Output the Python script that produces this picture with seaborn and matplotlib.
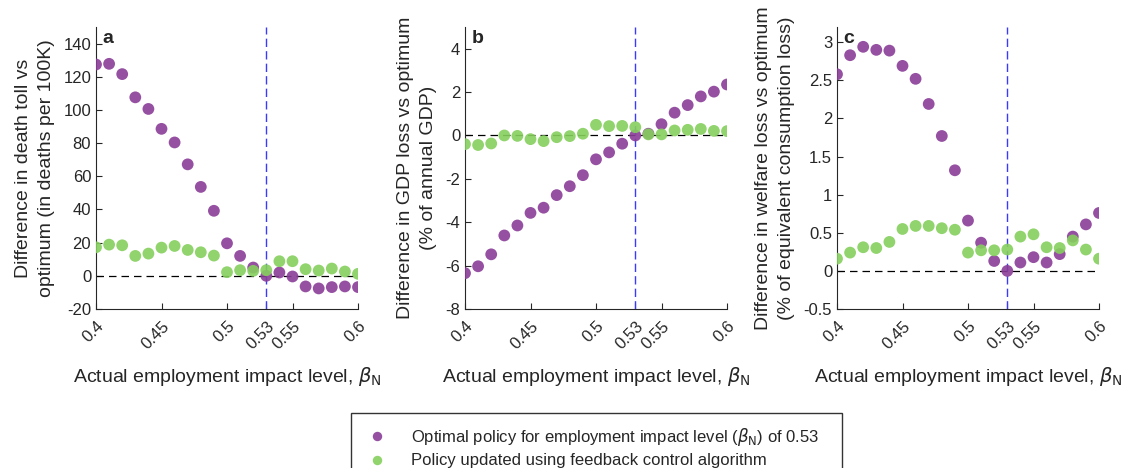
import numpy as np
import pandas as pd
import seaborn as sns
import matplotlib.pyplot as plt

beta = [0.40, 0.41, 0.42, 0.43, 0.44, 0.45, 0.46, 0.47, 0.48, 0.49, 0.50,
        0.51, 0.52, 0.53, 0.54, 0.55, 0.56, 0.57, 0.58, 0.59, 0.60]

# panel a: death toll difference (deaths per 100K)
death_opt = [127.4, 127.8, 121.6, 107.6, 100.6, 88.6, 80.4, 67.2, 53.6, 39.2, 19.6,
             12.0, 5.0, 0.0, 2.0, -0.4, -6.4, -7.6, -6.8, -6.4, -6.8]
death_fb = [17.2, 18.8, 18.4, 12.0, 13.4, 17.0, 18.0, 15.6, 14.2, 12.2, 2.2,
            3.4, 3.0, 3.4, 8.8, 8.8, 4.0, 3.2, 4.4, 2.6, 1.2]

# panel b: GDP loss difference (% of annual GDP)
gdp_opt = [-6.35, -6.03, -5.48, -4.61, -4.15, -3.57, -3.33, -2.75, -2.34, -1.83, -1.10,
           -0.78, -0.38, 0.0, 0.08, 0.52, 1.05, 1.40, 1.80, 2.02, 2.35]
gdp_fb = [-0.40, -0.44, -0.37, 0.0, -0.02, -0.17, -0.26, -0.08, -0.03, 0.08, 0.49,
          0.43, 0.44, 0.38, 0.05, 0.05, 0.23, 0.26, 0.30, 0.21, 0.20]

# panel c: welfare loss difference (% of equivalent consumption loss)
welf_opt = [2.58, 2.83, 2.94, 2.90, 2.89, 2.69, 2.52, 2.19, 1.77, 1.32, 0.66,
            0.37, 0.13, 0.0, 0.11, 0.18, 0.11, 0.22, 0.45, 0.61, 0.76]
welf_fb = [0.16, 0.24, 0.31, 0.30, 0.38, 0.55, 0.59, 0.59, 0.56, 0.54, 0.24,
           0.27, 0.27, 0.28, 0.45, 0.48, 0.31, 0.30, 0.40, 0.28, 0.16]

lab_opt = r'Optimal policy for employment impact level ($\beta_{\mathrm{N}}$) of 0.53'
lab_fb = 'Policy updated using feedback control algorithm'

xticks = [0.4, 0.45, 0.5, 0.53, 0.55, 0.6]
xticklabels = ['0.4', '0.45', '0.5', '0.53', '0.55', '0.6']

panels = [
    ('a', death_opt, death_fb, (-20, 150), np.arange(-20, 141, 20),
     'Difference in death toll vs\noptimum (in deaths per 100K)'),
    ('b', gdp_opt, gdp_fb, (-8, 5), np.arange(-8, 5, 2),
     'Difference in GDP loss vs optimum\n(% of annual GDP)'),
    ('c', welf_opt, welf_fb, (-0.5, 3.2), [-0.5, 0, 0.5, 1, 1.5, 2, 2.5, 3],
     'Difference in welfare loss vs optimum\n(% of equivalent consumption loss)'),
]

sns.set_style('ticks')
plt.rcParams['font.family'] = ['Liberation Sans', 'DejaVu Sans']
plt.rcParams['mathtext.fontset'] = 'dejavusans'

fig = plt.figure(figsize=(11.21, 4.68), dpi=100)
lefts = [96, 465, 837]
palette = {lab_opt: '#8a3d98', lab_fb: '#85cf5c'}

for left, (letter, y_opt, y_fb, ylim, yticks, ylabel) in zip(lefts, panels):
    ax = fig.add_axes([left / 1121, 159 / 468, 262 / 1121, 282 / 468])
    df = pd.DataFrame({
        'beta': beta + beta,
        'value': y_opt + y_fb,
        'policy': [lab_opt] * len(beta) + [lab_fb] * len(beta),
    })
    ax.axhline(0, color='black', lw=0.9, ls=(0, (6, 4)), zorder=1)
    ax.axvline(0.53, color='#3a3aff', lw=1.0, ls=(0, (6, 3)), zorder=1)
    sns.scatterplot(data=df, x='beta', y='value', hue='policy', palette=palette,
                    s=72, alpha=0.9, edgecolor='none', ax=ax, legend=(letter == 'a'),
                    zorder=3)
    ax.set_xlim(0.4, 0.6)
    ax.set_ylim(*ylim)
    ax.set_xticks(xticks)
    ax.set_xticklabels(xticklabels, rotation=45, ha='right', rotation_mode='anchor')
    ax.set_yticks(yticks)
    ax.set_yticklabels([f'{v:g}' for v in yticks])
    ax.tick_params(direction='in', length=4, labelsize=12, colors='#262626',
                   labelcolor='#262626')
    ax.tick_params(axis='x', pad=7)
    ax.set_xlabel(r'Actual employment impact level, $\beta_{\mathrm{N}}$', fontsize=14,
                  labelpad=9, color='#262626')
    ax.set_ylabel(ylabel, fontsize=14, color='#262626', labelpad=6, linespacing=1.45)
    ax.text(0.025, 0.99, letter, transform=ax.transAxes, fontsize=14,
            fontweight='bold', va='top', ha='left')
    sns.despine(ax=ax)
    if letter == 'a':
        handles, labels = ax.get_legend_handles_labels()
        ax.get_legend().remove()

fig.legend(handles, labels, loc='upper left',
           bbox_to_anchor=(351 / 1121, 1 - 413 / 468, 491 / 1121, 0),
           mode='expand', borderaxespad=0, fontsize=12, frameon=True,
           fancybox=False, edgecolor='#333333', framealpha=1,
           markerscale=0.8, handletextpad=1.25, borderpad=0.75, labelspacing=0.35,
           handlelength=1.6)

fig.savefig('out.png', dpi=100)
